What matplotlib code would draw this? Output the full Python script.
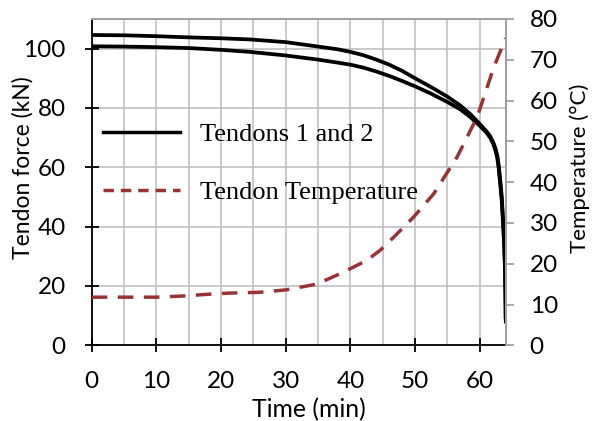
import matplotlib
matplotlib.use("Agg")
import matplotlib.pyplot as plt
from matplotlib.ticker import MultipleLocator
from matplotlib.lines import Line2D

# Tendon force data (kN) vs time (min)
t_upper = [0, 5, 10, 15, 20, 24.5, 30, 35, 38, 40, 42, 44, 46, 48, 50, 52.5, 55, 57, 58.5, 60, 61, 61.6, 62.1, 62.4, 62.7, 62.9, 63.15, 63.4, 63.65, 63.8, 63.9, 63.97, 64.0]
f_upper = [104.6, 104.5, 104.2, 103.8, 103.5, 103.1, 102.2, 100.7, 99.8, 98.9, 97.8, 96.3, 94.6, 92.5, 90.0, 87.0, 83.8, 80.8, 78.0, 74.6, 72.2, 70.5, 68.3, 66.5, 64.0, 61.0, 56.0, 50.0, 40.0, 33.0, 26.0, 17.0, 9.5]
t_lower = [0, 5, 10, 15, 20, 24.5, 30, 35, 38, 40, 42, 44, 46, 48, 50, 52.5, 55, 57, 58.5, 60, 61, 61.6, 62.1, 62.4, 62.7, 62.9, 63.15, 63.4, 63.65, 63.8, 63.9, 63.97, 64.02]
f_lower = [100.8, 100.7, 100.5, 100.2, 99.6, 98.9, 97.7, 96.3, 95.3, 94.6, 93.6, 92.3, 90.8, 89.1, 87.3, 84.8, 82.0, 79.5, 77.0, 74.0, 71.8, 70.0, 67.8, 65.8, 63.2, 60.0, 54.5, 48.5, 39.0, 32.0, 25.0, 16.0, 8.0]

# Tendon temperature (°C)
t_temp = [0, 5, 10, 14.3, 17.8, 21.4, 26, 30.1, 34.8, 37.9, 40, 42.5, 44.6, 47, 49.8, 52.9, 56.5, 59.6, 62.2, 64.0]
temp = [11.8, 11.8, 11.8, 12.1, 12.5, 12.8, 13.0, 13.6, 15.0, 17.2, 18.8, 20.8, 23.3, 27.0, 31.5, 37.2, 46.2, 56.0, 68.3, 75.3]

x_ticks = [0, 10, 20, 30, 40, 50, 60]
left_ticks = [0, 20, 40, 60, 80, 100]
right_ticks = [0, 10, 20, 30, 40, 50, 60, 70, 80]

plt.rcParams['font.family'] = ['Lato', 'DejaVu Sans']

fig = plt.figure(figsize=(5.94, 4.21), dpi=100)
ax = fig.add_axes([0.1544, 0.1798, 0.8513 - 0.1544, 0.9549 - 0.1798])
ax2 = ax.twinx()

black = 'black'
red = '#993333'

ax.plot(t_upper, f_upper, color=black, lw=2.7, solid_joinstyle='round')
ax.plot(t_lower, f_lower, color=black, lw=2.7, solid_joinstyle='round')
ax2.plot(t_temp, temp, color=red, lw=2.5, linestyle=(0, (4.5, 3.0)))

ax.set_xlim(0, 64)
ax.set_ylim(0, 110)
ax2.set_ylim(0, 80)

ax.set_xticks(x_ticks)
ax.xaxis.set_minor_locator(MultipleLocator(5))
ax.set_yticks(left_ticks)
ax2.set_yticks(right_ticks)

grid_c = '#c0c0c0'
ax.grid(True, which='major', axis='y', color=grid_c, lw=1.2)
ax.grid(True, which='both', axis='x', color=grid_c, lw=1.2)
ax.set_axisbelow(True)

for s in ['left', 'bottom']:
    ax.spines[s].set_color('black')
    ax.spines[s].set_linewidth(1.3)
for s in ['top', 'right']:
    ax.spines[s].set_color('#a0a0a0')
    ax.spines[s].set_linewidth(1.3)
    ax2.spines[s].set_color('#a0a0a0')
    ax2.spines[s].set_linewidth(1.3)
ax2.spines['left'].set_visible(False)
ax2.spines['bottom'].set_visible(False)

tick_fs = 17.5
ax.tick_params(axis='both', which='major', direction='inout', length=10, width=1.3,
               labelsize=tick_fs, color='black')
ax.tick_params(axis='x', which='minor', length=0)
ax.tick_params(axis='x', pad=13.5)
ax.tick_params(axis='y', pad=13.7)
ax2.tick_params(axis='y', direction='out', length=6, width=1.3, color='#a0a0a0',
                labelsize=tick_fs, pad=11.3)

ax.set_xlabel('Time (min)', fontsize=17.8)
ax.xaxis.set_label_coords(0.525, -0.1615)
ax.set_ylabel('Tendon force (kN)', fontsize=16.5)
ax.yaxis.set_label_coords(-0.140, 0.543)
ax2.set_ylabel('Temperature (°C)', fontsize=16)
ax2.yaxis.set_label_coords(1.154, 0.543)

handles = [Line2D([], [], color=black, lw=2.5),
           Line2D([], [], color=red, lw=2.5, linestyle=(0, (3.0, 2.0)))]
leg = ax2.legend(handles, ['Tendons 1 and 2', 'Tendon Temperature'],
                 loc='upper left', bbox_to_anchor=(-0.017, 0.738), frameon=False,
                 prop={'family': 'Liberation Serif', 'size': 19},
                 handlelength=2.9, handletextpad=0.76, labelspacing=1.3,
                 borderaxespad=0.3)

fig.savefig('out.png', dpi=100)
